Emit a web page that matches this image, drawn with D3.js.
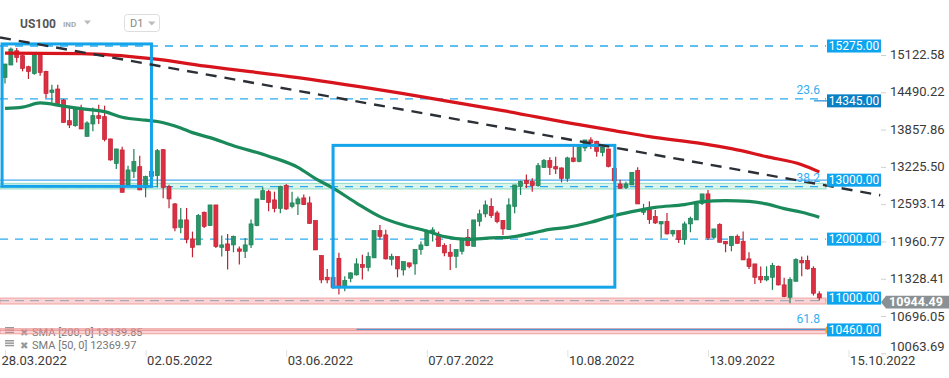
<!DOCTYPE html>
<html>
<head>
<meta charset="utf-8">
<script src="https://cdn.jsdelivr.net/npm/d3@7"></script>
<style>
  body { margin: 0; background: #fff; font-family: Roboto, "Noto Sans", sans-serif; }
  svg { display: block; }
</style>
</head>
<body>
<svg width="949" height="378"></svg>
<script>
// daily candles, [open, high, low, close]
const candles = [
  [14743,14970,14641,14970],[14953,15251,14953,15224],[15195,15241,14997,15082],[15111,15128,14845,14895],
  [14924,14941,14716,14845],[14811,15145,14789,15128],[15140,15167,14772,14828],[14845,14856,14394,14472],
  [14489,14619,14319,14529],[14546,14619,14292,14302],[14360,14377,13980,13980],[14009,14263,13885,13936],
  [13924,14234,13907,14207],[14207,14280,13868,13868],[13743,13997,13743,13970],[13953,14234,13828,14094],
  [14094,14280,13953,14048],[14077,14263,13658,13692],[13699,13704,13331,13343],[13285,13534,13190,13529],
  [13512,13568,12794,12794],[12919,13246,12907,13173],[13150,13529,13038,13314],[13229,13416,12834,12834],
  [12878,13077,12709,13060],[13060,13350,12950,13150],[13077,13529,12878,13500],[13517,13529,12692,12878],
  [12890,12924,12522,12682],[12597,12614,12133,12190],[12200,12529,12099,12326],[12326,12529,11929,11997],
  [12004,12128,11692,11861],[11902,12428,11902,12399],[12455,12467,12190,12217],[12229,12580,12229,12580],
  [12580,12580,11851,11873],[11861,12060,11704,11902],[11919,12089,11483,11805],[11902,12060,11777,12048],
  [11834,11873,11568,11794],[11794,12021,11682,11902],[11902,12331,11851,12258],[12229,12682,12217,12682],
  [12670,12878,12670,12822],[12805,12839,12472,12624],[12665,12805,12455,12522],[12522,12907,12438,12895],
  [12907,12936,12495,12512],[12556,12805,12522,12614],[12597,12721,12411,12682],[12699,12755,12580,12585],
  [12614,12721,12258,12268],[12314,12314,11817,11817],[11721,11721,11251,11309],[11353,11495,11251,11309],
  [11350,11450,11160,11180],[11675,11767,11060,11183],[11183,11370,11116,11297],[11336,11433,11268,11428],
  [11394,11675,11382,11580],[11568,11733,11314,11522],[11522,11777,11455,11704],[11682,12144,11682,12144],
  [12144,12241,11992,12048],[12072,12161,11653,11665],[11658,11750,11551,11704],[11704,11704,11353,11495],
  [11478,11619,11382,11619],[11597,11602,11505,11539],[11580,11822,11394,11822],[11822,11958,11733,11902],
  [11890,12161,11878,12144],[12116,12200,11958,12156],[12072,12128,11873,11878],[11890,11929,11709,11767],
  [11777,11919,11478,11709],[11709,11822,11512,11822],[11794,11992,11738,11992],[12031,12173,11878,11890],
  [11878,12326,11878,12326],[12302,12500,12217,12428],[12428,12653,12370,12580],[12556,12692,12360,12399],
  [12444,12483,12268,12297],[12314,12326,12072,12173],[12161,12692,12161,12580],[12556,12919,12438,12919],
  [12895,12992,12750,12975],[12992,13094,12868,12946],[12975,13031,12805,12907],[12907,13292,12890,13246],
  [13217,13360,13207,13331],[13331,13387,13089,13217],[13229,13399,13106,13190],[13207,13217,12963,13031],
  [13031,13399,12975,13377],[13377,13585,13302,13319],[13319,13597,13302,13585],[13546,13682,13489,13682],
  [13682,13726,13529,13631],[13658,13670,13399,13489],[13472,13568,13404,13556],[13529,13534,13217,13234],
  [13200,13230,12960,12990],[12936,13009,12851,12862],[12878,12975,12851,12936],[12919,13133,12919,13133],
  [13162,13217,12597,12597],[12455,12597,12411,12483],[12500,12641,12258,12331],[12382,12495,12258,12275],
  [12258,12297,12014,12297],[12297,12444,12077,12089],[12089,12161,12043,12144],[12144,12144,11936,11992],
  [11992,12297,11907,12258],[12258,12382,12116,12353],[12326,12597,12326,12597],[12607,12767,12580,12767],
  [12767,12834,11987,12021],[12031,12173,11992,12173],[12246,12268,11946,11946],[11963,11963,11777,11919],
  [11890,12048,11794,12048],[12048,12077,11919,11929],[11963,12128,11648,11648],[11665,11777,11495,11534],
  [11580,11580,11241,11353],[11365,11534,11258,11309],[11309,11539,11285,11365],[11353,11597,11139,11551],
  [11539,11551,11212,11224],[11224,11343,11014,11026],[11014,11353,10912,11314],[11285,11675,11285,11653],
  [11636,11704,11370,11597],[11636,11721,11483,11495],[11505,11539,11043,11082],[11072,11116,10958,11004]
];

// moving averages: [bar index, value]
const sma200 = [[0,15153],[13,15145],[25,15060],[35,14924],[50,14738],[68,14467],[85,14179],[98,13941],
  [104,13840],[110,13738],[119,13619],[124,13534],[130,13399],[136,13263],[139,13140]];
const sma50 = [[0,14217],[3,14238],[6,14309],[10,14255],[13,14212],[17,14162],[20,14068],[24,14017],
  [26,13995],[30,13885],[32,13806],[35,13721],[39,13585],[45,13407],[50,13217],[53,13026],[56,12865],
  [60,12611],[64,12382],[68,12238],[72,12139],[75,12043],[79,11997],[83,12021],[86,12031],[90,12102],
  [93,12166],[96,12200],[100,12285],[103,12373],[107,12466],[111,12539],[116,12585],[119,12636],
  [123,12653],[127,12641],[130,12597],[133,12517],[136,12455],[139,12370]];

const trendLine = [[-0.85,15420],[149.4,12745]];
const boxes = [[-0.5,25,15310,12895],[56,104.1,13590,11185]];   // [from, to, top, bottom]

const dashedLevels = [15275, 12000];
const solidLevels = [13000];
const zones = [[12851,12946],[10900,11000],[10395,10480]];
const zoneKinds = ["teal","pink","pink"];
const fibRatios = ["23.6","38.2","61.8"];
const fibValues = [14377,12890,10487];
const levelLabels = [15275,14345,13000,12000,11000,10460];
const lastPrice = 10944.49;

const yTicks = [15122.58,14490.22,13857.86,13225.50,12593.14,11960.77,11328.41,10696.05,10063.69];
const dateIdx = [0,24,48,72,96,120,144];
const dateLabels = ["28.03.2022","02.05.2022","03.06.2022","07.07.2022","10.08.2022","13.09.2022","15.10.2022"];
const legendRows = ["SMA [200,  0] 13139.85","SMA [50,  0] 12369.97"];

const svg = d3.select("svg");
const x = d3.scaleLinear().domain([0, 139]).range([5, 819.3]);
const y = d3.scaleLinear().domain([10063.69, 15122.58]).range([353.3, 55]);

svg.append("defs").append("clipPath").attr("id", "clip")
  .append("rect").attr("x", 0).attr("y", 0).attr("width", 881).attr("height", 350);

// legend sits under the zones
const legend = svg.append("g").attr("font-size", 11).attr("fill", "#777");
legendRows.forEach((t, k) => {
  const ly = 332 + k * 13;
  const g = legend.append("g");
  [0, 3, 6].forEach(d => g.append("rect").attr("x", 5).attr("y", ly - 5 + d * 0.8).attr("width", 9).attr("height", 1.5).attr("fill", "#999"));
  g.append("text").attr("x", 20).attr("y", ly + 3.5).attr("font-size", 10).attr("fill", "#999").text("\u2716");
  g.append("text").attr("x", 32).attr("y", ly + 4).text(t);
});

const plot = svg.append("g").attr("clip-path", "url(#clip)");

// zones
const zoneFill = {teal: "rgba(120,220,190,0.28)", pink: "rgba(240,120,120,0.32)"};
const zoneLine = {teal: "#8fdcc6", pink: "#eea0a0"};
zones.forEach((z, k) => {
  const kind = zoneKinds[k];
  plot.append("rect").attr("x", 0).attr("width", 826)
    .attr("y", y(z[1])).attr("height", y(z[0]) - y(z[1]))
    .attr("fill", zoneFill[kind]).attr("stroke", zoneLine[kind]).attr("stroke-width", 1);
});
plot.append("line").attr("x1", 0).attr("x2", 826).attr("y1", y(10958)).attr("y2", y(10958))
  .attr("stroke", "#a8a8b8").attr("stroke-width", 1.2).attr("stroke-dasharray", "9,6");
plot.append("line").attr("x1", 0).attr("x2", 826).attr("y1", y(10455)).attr("y2", y(10455))
  .attr("stroke", "#e88a8a").attr("stroke-width", 1);
plot.append("line").attr("x1", x(60)).attr("x2", 826).attr("y1", y(10470)).attr("y2", y(10470))
  .attr("stroke", "#2a8fd8").attr("stroke-width", 1);

// level lines
plot.selectAll("line.dash").data(dashedLevels.concat(fibValues.slice(0, 2))).enter().append("line")
  .attr("class", "dash").attr("x1", 0).attr("x2", 826)
  .attr("y1", d => y(d)).attr("y2", d => y(d))
  .attr("stroke", "#2aaaf0").attr("stroke-width", 1.3).attr("stroke-dasharray", "8,7");
plot.selectAll("line.solid").data(solidLevels).enter().append("line")
  .attr("class", "solid").attr("x1", 0).attr("x2", 828)
  .attr("y1", d => y(d)).attr("y2", d => y(d))
  .attr("stroke", "#4aa8ee").attr("stroke-width", 1.4);
plot.append("line").attr("x1", 814).attr("x2", 828).attr("y1", y(14345)).attr("y2", y(14345))
  .attr("stroke", "#1a8ad0").attr("stroke-width", 1.2);

// candles
const cg = plot.append("g");
cg.selectAll("line").data(candles).enter().append("line")
  .attr("x1", (d, i) => x(i)).attr("x2", (d, i) => x(i))
  .attr("y1", d => y(d[1])).attr("y2", d => y(d[2]))
  .attr("stroke", d => d[3] >= d[0] ? "#1d7f55" : "#c21f32").attr("stroke-width", 1.2);
cg.selectAll("rect").data(candles).enter().append("rect")
  .attr("x", (d, i) => x(i) - 2).attr("width", 4)
  .attr("y", d => y(Math.max(d[0], d[3])))
  .attr("height", d => Math.max(1, Math.abs(y(d[0]) - y(d[3]))))
  .attr("fill", d => d[3] >= d[0] ? "#2a9668" : "#dc3042")
  .attr("stroke", d => d[3] >= d[0] ? "#1d7f55" : "#c21f32").attr("stroke-width", 0.7);

// moving averages
const line = d3.line().x(d => x(d[0])).y(d => y(d[1])).curve(d3.curveMonotoneX);
plot.append("path").datum(sma200).attr("d", line).attr("fill", "none")
  .attr("stroke", "#d7131c").attr("stroke-width", 3.2);
plot.append("path").datum(sma50).attr("d", line).attr("fill", "none")
  .attr("stroke", "#1a8a5a").attr("stroke-width", 3.2);

// boxes
plot.selectAll("rect.box").data(boxes).enter().append("rect").attr("class", "box")
  .attr("x", d => x(d[0])).attr("width", d => x(d[1]) - x(d[0]))
  .attr("y", d => y(d[2])).attr("height", d => y(d[3]) - y(d[2]))
  .attr("fill", "none").attr("stroke", "#13a4ea").attr("stroke-width", 3);

// trend line
plot.append("path").datum(trendLine).attr("d", d3.line().x(d => x(d[0])).y(d => y(d[1])))
  .attr("stroke", "#2b2f36").attr("stroke-width", 2.4).attr("stroke-dasharray", "11,8").attr("fill", "none");

// fib ratio texts
svg.selectAll("text.fib").data(fibRatios).enter().append("text").attr("class", "fib")
  .attr("x", 820).attr("y", (d, k) => y(fibValues[k]) - 5)
  .attr("text-anchor", "end").attr("font-size", 12).attr("fill", "#35aef2").text(d => d);

// orange marker near 10460
svg.append("path").attr("d", `M828,${y(10460) - 4} q-4,4 0,8`).attr("fill", "none")
  .attr("stroke", "#f5a020").attr("stroke-width", 1.5);

// price boxes
const lb = svg.append("g");
levelLabels.forEach(v => {
  const cy = y(v);
  lb.append("rect").attr("x", 827).attr("y", cy - 6.5).attr("width", 54).attr("height", 13)
    .attr("fill", v === 14345 ? "#0a80c4" : "#0ea4ee");
  lb.append("text").attr("x", 854).attr("y", cy + 4.2).attr("text-anchor", "middle")
    .attr("font-size", 12).attr("fill", "#fff").text(d3.format(".2f")(v));
});
const py = y(lastPrice) + 0.8;
svg.append("path")
  .attr("d", `M881,${py} L886,${py - 6.3} L949,${py - 6.3} L949,${py + 6.3} L886,${py + 6.3} Z`)
  .attr("fill", "#8a9195");
svg.append("text").attr("x", 916).attr("y", py + 4.3).attr("text-anchor", "middle")
  .attr("font-size", 12.5).attr("font-weight", "bold").attr("fill", "#fff").text(d3.format(".2f")(lastPrice));

// price axis
const yAxis = d3.axisRight(y).tickValues(yTicks).tickFormat(d3.format(".2f")).tickSize(5).tickPadding(4);
const ya = svg.append("g").attr("transform", "translate(881,0)").call(yAxis);
ya.select(".domain").remove();
ya.selectAll("line").attr("stroke", "#d0d0d0");
ya.selectAll("text").attr("font-size", 13).attr("font-family", "Roboto, sans-serif").attr("fill", "#3a3a3a")
  .attr("dy", d => d < 10100 ? "-0.2em" : d < 10700 ? "0.36em" : "0.28em");

// date axis
const xAxis = d3.axisBottom(x).tickValues(dateIdx).tickFormat((d, k) => dateLabels[k]).tickSize(7);
const xa = svg.append("g").attr("transform", "translate(0,350)").call(xAxis);
xa.select(".domain").remove();
xa.selectAll("line").attr("stroke", "#e0e0e0");
xa.selectAll("text").attr("text-anchor", "start").attr("dx", d => d === 0 ? -4 : 1).attr("y", 6).attr("dy", "0.71em")
  .attr("font-size", 13).attr("font-family", "Roboto, sans-serif").attr("fill", "#3a3a3a");

// header
const hd = svg.append("g");
hd.append("text").attr("x", 20).attr("y", 27.5).attr("font-size", 12).attr("font-weight", "bold")
  .attr("fill", "#555").text("US100");
hd.append("text").attr("x", 63).attr("y", 26.5).attr("font-size", 8).attr("font-weight", "bold")
  .attr("fill", "#aaa").text("IND");
hd.append("path").attr("d", "M84,20.5 L91,20.5 L87.5,24.5 Z").attr("fill", "#bbb");
hd.append("rect").attr("x", 124.5).attr("y", 14.5).attr("width", 35).attr("height", 17).attr("rx", 3)
  .attr("fill", "#fff").attr("stroke", "#ddd");
hd.append("text").attr("x", 130).attr("y", 27.3).attr("font-size", 11).attr("fill", "#888").text("D1");
hd.append("path").attr("d", "M148,21.5 L155.5,21.5 L151.75,25.5 Z").attr("fill", "#bbb");
</script>
</body>
</html>
